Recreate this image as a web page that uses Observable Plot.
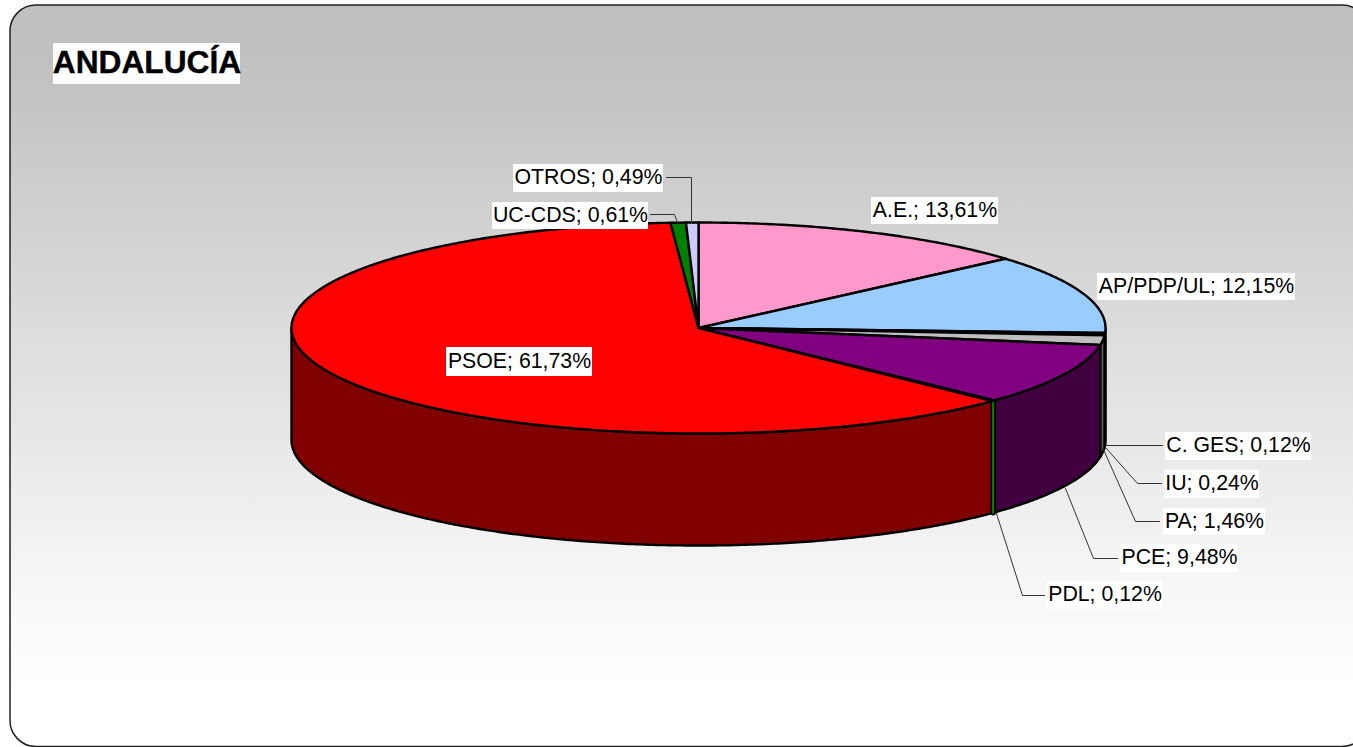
<!DOCTYPE html>
<html>
<head>
<meta charset="utf-8">
<script src="https://cdn.jsdelivr.net/npm/d3@7"></script>
<script src="https://cdn.jsdelivr.net/npm/@observablehq/plot@0.6"></script>
<style>html,body{margin:0;padding:0;background:#fff;overflow:hidden}svg{display:block}</style>
</head>
<body>
<div id="chart"></div>
<script>
// Data, clockwise from 12 o'clock
const parties = ["A.E.", "AP/PDP/UL", "C. GES", "IU", "PA", "PCE", "PDL", "PSOE", "UC-CDS", "OTROS"];
const shares = [13.61, 12.15, 0.12, 0.24, 1.46, 9.48, 0.12, 61.73, 0.61, 0.49];
const topColors = ["#ff99cc", "#99ccff", "#ffffff", "#ffffcc", "#c0c0c0", "#800080", "#00ff00", "#ff0000", "#008000", "#ccccff"];
const sideColors = ["#804d66", "#4d6680", "#808080", "#808066", "#606060", "#400040", "#008000", "#800000", "#004000", "#666680"];
const shareLabels = ["13,61%", "12,15%", "0,12%", "0,24%", "1,46%", "9,48%", "0,12%", "61,73%", "0,61%", "0,49%"];
const chartTitle = "ANDALUCÍA";

// Layout (pixels of the 1353x747 frame)
const W = 1353, H = 747;
const pieLeft = 291, pieRight = 1105, pieTop = 222, pieBottom = 433, pieDepth = 112;
const labelFont = "Liberation Sans, Arial, sans-serif";
const labelSize = 21.3, titleSize = 31.7;
const edgeWidth = 2.4;
const labelBoxes = [
  [871, 197, 998, 224], [1097, 273, 1295, 300], [1165, 432, 1311, 460], [1164, 470, 1259, 498],
  [1163, 508, 1265, 535], [1120, 544, 1238, 572], [1047, 581, 1162, 609], [446, 347, 592, 376],
  [492, 202, 648, 229], [513, 164, 663, 192]
];
const leaders = [
  null, null,
  [[1105, 445], [1162, 445]],
  [[1105, 447], [1137, 483], [1161, 483]],
  [[1103, 449], [1135, 521], [1159, 521]],
  [[1065, 488], [1093, 558], [1117, 558]],
  [[996, 513], [1022, 595], [1044, 595]],
  null,
  [[650, 214], [674, 214], [677, 222]],
  [[666, 177], [691, 177], [691, 222]]
];
const titleBox = [53, 43, 240, 84];
const frame = {x1: 10, y1: 5, x2: 1368, y2: 746.5, r: 26};

// Unit-pie scale: x in [-1,1] across the ellipse, y in [-1,1] up the ellipse
const xR = (pieRight - pieLeft) / 2, yR = (pieBottom - pieTop) / 2;
const cx = (pieRight + pieLeft) / 2, cy = (pieBottom + pieTop) / 2;
const ux = px => (px - cx) / xR;
const uy = py => (cy - py) / yR;
const depth = pieDepth / yR;

const total = d3.sum(shares);
const turn = v => (v / total) * 2 * Math.PI;
const at = a => [Math.sin(a), Math.cos(a)];
const arc = (a0, a1) => {
  const n = Math.max(2, Math.ceil(Math.abs(a1 - a0) / 0.01));
  return d3.range(n + 1).map(i => at(a0 + (a1 - a0) * i / n));
};

const topRows = [], sideRows = [], sliverRows = [];
let cum = 0;
parties.forEach((party, i) => {
  const a0 = turn(cum), a1 = turn(cum + shares[i]);
  cum += shares[i];
  const pts = [[0, 0], ...arc(a0, a1), [0, 0]];
  pts.forEach(([x, y], k) => topRows.push({party, i, k, x, y, fill: topColors[i]}));
  const s0 = Math.max(a0, Math.PI / 2), s1 = Math.min(a1, 3 * Math.PI / 2);
  if (s1 > s0) {
    const outer = arc(s0, s1);
    const ring = [...outer, ...outer.slice().reverse().map(([x, y]) => [x, y - depth]), outer[0]];
    ring.forEach(([x, y], k) => sideRows.push({party, i, k, x, y, fill: sideColors[i]}));
    // a wall too narrow to outlast its own outline is drawn as a stripe
    const [mx, my] = at((a0 + a1) / 2);
    if (party === "PDL") sliverRows.push({x: mx, y: my}, {x: mx, y: my - depth});
  }
});

const labels = parties.map((p, i) => ({text: `${p}; ${shareLabels[i]}`, box: labelBoxes[i]}));
const leaderRows = leaders.flatMap((l, i) => l ? l.map(([x, y]) => ({i, x: ux(x), y: uy(y)})) : []);

const defs = () => {
  const s = d3.create("svg:g");
  const g = s.append("defs").append("linearGradient")
    .attr("id", "bg").attr("x1", 0).attr("x2", 0).attr("y1", 0).attr("y2", 1);
  [[0, "#c0c0c0"], [0.07, "#c0c0c0"], [0.80, "#f8f8f8"], [0.92, "#ffffff"], [1, "#ffffff"]].forEach(([o, c]) =>
    g.append("stop").attr("offset", o).attr("stop-color", c));
  return s.node();
};

const chart = Plot.plot({
  width: W, height: H,
  margin: 0,
  style: {background: "transparent", overflow: "hidden"},
  x: {domain: [-1, 1], range: [pieLeft, pieRight], axis: null},
  y: {domain: [1, -1], range: [pieTop, pieBottom], axis: null},
  color: {type: "identity"},
  marks: [
    defs,
    Plot.rect([frame], {
      x1: d => ux(d.x1), x2: d => ux(d.x2), y1: d => uy(d.y1), y2: d => uy(d.y2),
      rx: frame.r, fill: "url(#bg)", stroke: "#222222", strokeWidth: 1.5
    }),
    // side wall
    Plot.line(sideRows, {x: "x", y: "y", z: "i", fill: "fill", stroke: "#000", strokeWidth: edgeWidth, strokeLinejoin: "round", curve: "linear"}),
    Plot.line(sliverRows, {x: "x", y: "y", stroke: "#000", strokeWidth: 5.4, curve: "linear"}),
    Plot.line(sliverRows, {x: "x", y: "y", stroke: "#0a7a0a", strokeWidth: 2.2, curve: "linear"}),
    // top face
    Plot.line(topRows, {x: "x", y: "y", z: "i", fill: "fill", stroke: "#000", strokeWidth: edgeWidth, strokeLinejoin: "round", curve: "linear"}),
    // leaders
    Plot.line(leaderRows, {x: "x", y: "y", z: "i", stroke: "#333333", strokeWidth: 1, curve: "linear"}),
    // label boxes
    Plot.rect(labels, {
      x1: d => ux(d.box[0]), x2: d => ux(d.box[2]), y1: d => uy(d.box[1]), y2: d => uy(d.box[3]),
      fill: "#fff"
    }),
    Plot.text(labels, {
      x: d => ux((d.box[0] + d.box[2]) / 2), y: d => uy((d.box[1] + d.box[3]) / 2 - 1),
      text: "text", fontSize: labelSize, fontFamily: labelFont, fill: "#000", textAnchor: "middle", lineAnchor: "middle"
    }),
    Plot.rect([titleBox], {
      x1: d => ux(d[0]), x2: d => ux(d[2]), y1: d => uy(d[1]), y2: d => uy(d[3]), fill: "#fff"
    }),
    Plot.text([chartTitle], {
      x: () => ux((titleBox[0] + titleBox[2]) / 2), y: () => uy((titleBox[1] + titleBox[3]) / 2 - 1),
      text: d => d, fontSize: titleSize, fontWeight: "bold", fontFamily: labelFont, fill: "#000",
      stroke: "#000", strokeWidth: 0.4, textAnchor: "middle", lineAnchor: "middle"
    })
  ]
});
document.getElementById("chart").appendChild(chart);
</script>
</body>
</html>
